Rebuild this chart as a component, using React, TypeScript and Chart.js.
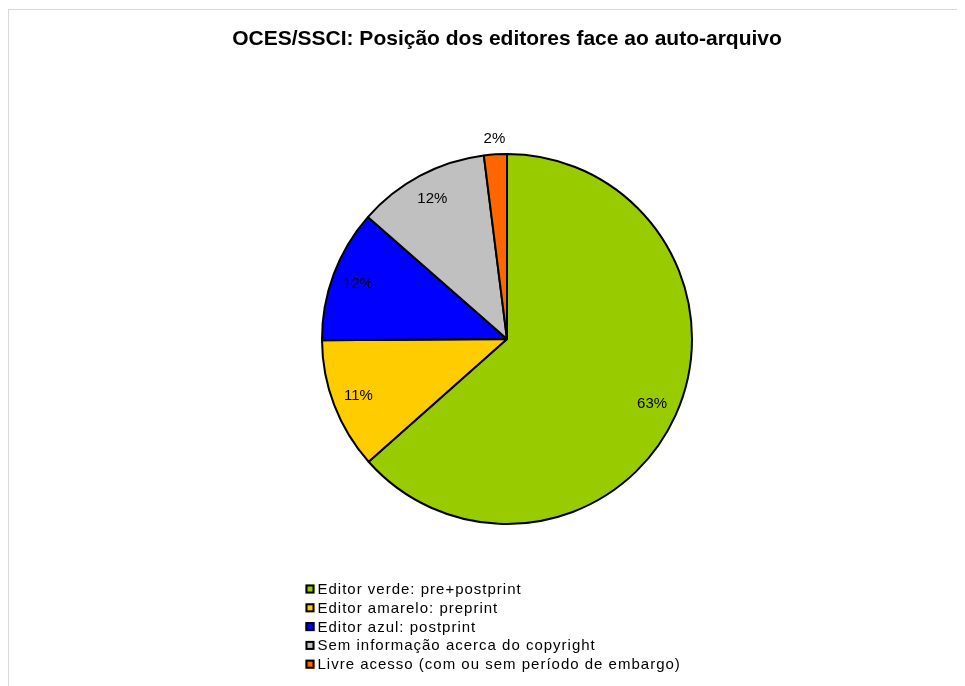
import React, { useEffect, useRef } from "react";
import { Chart, registerables } from "chart.js";

Chart.register(...registerables);

const TITLE = "OCES/SSCI: Posição dos editores face ao auto-arquivo";
const categories = [
  "Editor verde: pre+postprint",
  "Editor amarelo: preprint",
  "Editor azul: postprint",
  "Sem informação acerca do copyright",
  "Livre acesso (com ou sem período de embargo)",
];
const values = [63.45, 11.45, 11.55, 11.55, 2.0];
const colors = ["#99CC00", "#FFCC00", "#0000FF", "#C0C0C0", "#FF6600"];

const FONT = "'Liberation Sans', Arial, Helvetica, sans-serif";
const W = 956;
const H = 676;
const CX = 498;
const CY = 329;
const RADIUS = 185;
const TITLE_SIZE = 21;
const TITLE_PAD_TOP = 17;
const TITLE_PAD_BOTTOM = 10;
const LEG_X = 296.5;
const LEG_TOP = 574.5;
const LEG_STEP = 18.8;

const pieLabels = {
  id: "pieLabels",
  afterDatasetsDraw(chart: any) {
    const ctx = chart.ctx as CanvasRenderingContext2D;
    const meta = chart.getDatasetMeta(0);
    const data = chart.data.datasets[0].data as number[];
    const total = data.reduce((a, b) => a + b, 0);
    ctx.save();
    ctx.font = `15px ${FONT}`;
    ctx.fillStyle = "#000";
    ctx.textAlign = "center";
    ctx.textBaseline = "middle";
    meta.data.forEach((arc: any, i: number) => {
      const p = arc.getProps(["x", "y", "startAngle", "endAngle", "outerRadius"], true);
      const share = data[i] / total;
      const mid = (p.startAngle + p.endAngle) / 2;
      const r = share < 0.05 ? p.outerRadius + 16 : p.outerRadius * 0.86;
      ctx.fillText(Math.round(share * 100) + "%", p.x + Math.cos(mid) * r, p.y + Math.sin(mid) * r);
    });
    ctx.restore();
  },
};

const boxLegend = {
  id: "boxLegend",
  afterDraw(chart: any) {
    const ctx = chart.ctx as CanvasRenderingContext2D;
    const labels = chart.data.labels as string[];
    const bg = chart.data.datasets[0].backgroundColor as string[];
    ctx.save();
    ctx.font = `15px ${FONT}`;
    (ctx as any).letterSpacing = "1px";
    ctx.textAlign = "left";
    ctx.textBaseline = "alphabetic";
    labels.forEach((lab, i) => {
      const y = LEG_TOP + i * LEG_STEP;
      ctx.fillStyle = bg[i];
      ctx.fillRect(LEG_X, y, 9, 9);
      ctx.strokeStyle = "#000";
      ctx.lineWidth = 2;
      ctx.strokeRect(LEG_X + 1, y + 1, 7, 7);
      ctx.fillStyle = "#000";
      ctx.fillText(lab, LEG_X + 12, y + 9.5);
    });
    ctx.restore();
  },
};

export default function App() {
  const ref = useRef<HTMLCanvasElement>(null);

  useEffect(() => {
    document.documentElement.style.overflow = "hidden";
    document.body.style.overflow = "hidden";
    if (!ref.current) return;
    const titleBlock = TITLE_SIZE * 1.2 + TITLE_PAD_TOP + TITLE_PAD_BOTTOM;
    const padLeft = Math.max(0, 2 * CX - W);
    const padRight = Math.max(0, W - 2 * CX);
    const padBottom = titleBlock + H - 2 * CY;
    const chart = new Chart(ref.current, {
      type: "pie",
      data: {
        labels: categories,
        datasets: [
          {
            data: values,
            backgroundColor: colors,
            borderColor: "#000",
            borderWidth: 2,
            hoverOffset: 0,
          },
        ],
      },
      options: {
        responsive: false,
        animation: false,
        devicePixelRatio: 1,
        radius: RADIUS,
        layout: {
          padding: { left: padLeft, right: padRight, top: 0, bottom: padBottom },
        },
        plugins: {
          legend: { display: false },
          tooltip: { enabled: false },
          title: {
            display: true,
            text: TITLE,
            color: "#000",
            font: { family: FONT, size: TITLE_SIZE, weight: "bold", lineHeight: 1.2 },
            padding: { top: TITLE_PAD_TOP, bottom: TITLE_PAD_BOTTOM },
          },
        },
      } as any,
      plugins: [pieLabels, boxLegend],
    });
    return () => chart.destroy();
  }, []);

  return (
    <div
      style={{
        width: 970,
        height: 690,
        marginTop: 1,
        borderTop: "1px solid #d9d9d9",
        borderLeft: "1px solid #d9d9d9",
        background: "#fff",
      }}
    >
      <canvas ref={ref} width={W} height={H} style={{ display: "block" }} />
    </div>
  );
}
